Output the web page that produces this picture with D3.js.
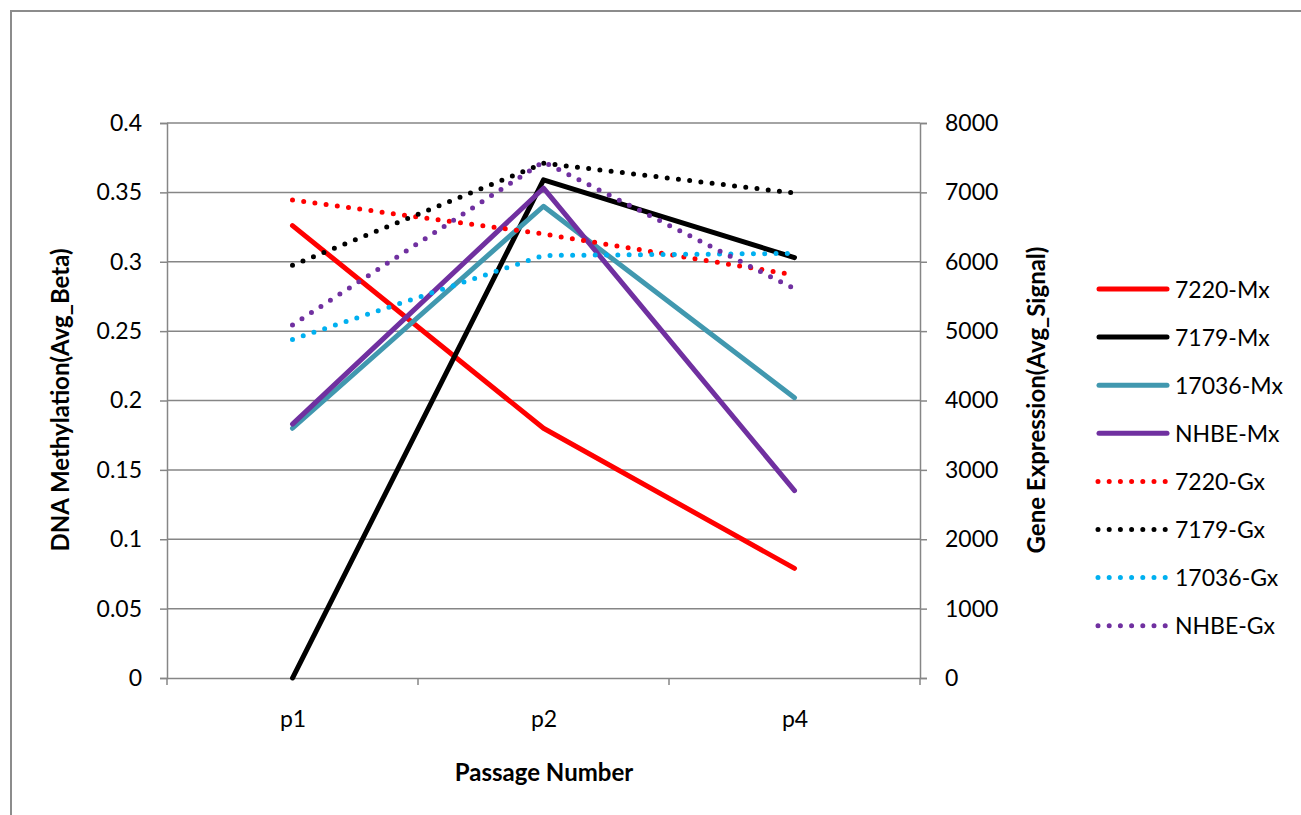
<!DOCTYPE html>
<html><head><meta charset="utf-8">
<script src="https://cdn.jsdelivr.net/npm/d3@7"></script>
<style>body{margin:0;background:#fff}svg{display:block}text{font-family:Lato,"Open Sans",sans-serif}</style>
</head><body><svg id="c" width="1301" height="815"></svg>
<script>
const categories = ["p1","p2","p4"];
const leftTicks = [0,0.05,0.1,0.15,0.2,0.25,0.3,0.35,0.4];
const rightTicks = [0,1000,2000,3000,4000,5000,6000,7000,8000];
const mx7220 = [0.326,0.180,0.079];
const mx7179 = [0.0,0.359,0.303];
const mx17036 = [0.180,0.340,0.202];
const mxNHBE = [0.183,0.353,0.135];
const gx7220 = [6890,6400,5810];
const gx7179 = [5950,7420,6990];
const gx17036 = [4880,6090,6120];
const gxNHBE = [5090,7440,5610];
const seriesNames = ["7220-Mx","7179-Mx","17036-Mx","NHBE-Mx","7220-Gx","7179-Gx","17036-Gx","NHBE-Gx"];

const series = [
 {name:seriesNames[0],vals:mx7220,axis:"L",color:"#ff0000",dot:false},
 {name:seriesNames[1],vals:mx7179,axis:"L",color:"#000000",dot:false},
 {name:seriesNames[2],vals:mx17036,axis:"L",color:"#4198af",dot:false},
 {name:seriesNames[3],vals:mxNHBE,axis:"L",color:"#7030a0",dot:false},
 {name:seriesNames[4],vals:gx7220,axis:"R",color:"#ff0000",dot:true},
 {name:seriesNames[5],vals:gx7179,axis:"R",color:"#000000",dot:true},
 {name:seriesNames[6],vals:gx17036,axis:"R",color:"#00b0f0",dot:true},
 {name:seriesNames[7],vals:gxNHBE,axis:"R",color:"#7030a0",dot:true}
];

const svg = d3.select("#c");
const L=167,R=920,T=123,B=678;
const grey="#868686";
const FS=23;
// outer frame
svg.append("rect").attr("x",11).attr("y",11).attr("width",1400).attr("height",1000)
  .attr("fill","none").attr("stroke","#8c8c8c").attr("stroke-width",2);

const x = d3.scalePoint().domain(categories).range([L,R]).padding(0.5);
const yL = d3.scaleLinear().domain([0,0.4]).range([B,T]);
const yR = d3.scaleLinear().domain([0,8000]).range([B,T]);

// gridlines
svg.append("g").selectAll("line").data(leftTicks.filter(d=>d>0)).join("line")
  .attr("x1",L).attr("x2",R).attr("y1",d=>yL(d)).attr("y2",d=>yL(d))
  .attr("stroke",grey).attr("stroke-width",1.5);

// left axis
const gl = svg.append("g").attr("transform",`translate(${L},0)`)
  .call(d3.axisLeft(yL).tickValues(leftTicks).tickFormat(d=>String(+d.toFixed(2))).tickSize(7).tickPadding(18));
// right axis
const gr = svg.append("g").attr("transform",`translate(${R},0)`)
  .call(d3.axisRight(yR).tickValues(rightTicks).tickFormat(d=>String(d)).tickSize(7).tickPadding(18));
// bottom axis
const step = x.step();
const gb = svg.append("g").attr("transform",`translate(0,${B})`)
  .call(d3.axisBottom(x).tickSize(0).tickPadding(33));
gb.append("g").selectAll("line").data([0,1,2,3]).join("line")
  .attr("x1",i=>L+i*step).attr("x2",i=>L+i*step).attr("y1",0).attr("y2",7)
  .attr("stroke",grey).attr("stroke-width",1.5);
[gl,gr,gb].forEach(g=>{
  g.select(".domain").attr("stroke",grey).attr("stroke-width",1.5);
  g.selectAll(".tick line").attr("stroke",grey).attr("stroke-width",1.5);
  g.selectAll(".tick text").attr("font-size",FS).attr("fill","#000").attr("font-family","Lato,'Open Sans',sans-serif");
});

// lines
const clip = svg.append("g");
series.forEach(s=>{
  const y = s.axis==="L"?yL:yR;
  const line = d3.line().x((d,i)=>x(categories[i])).y(d=>y(d));
  const p = clip.append("path").datum(s.vals).attr("d",line).attr("fill","none")
    .attr("stroke",s.color).attr("stroke-linecap","round").attr("stroke-linejoin","round");
  if(s.dot){ p.attr("stroke-width",5).attr("stroke-dasharray","0 11.3"); }
  else { p.attr("stroke-width",5); }
});

// axis titles
svg.append("text").attr("transform","translate(69,400) rotate(-90)").attr("text-anchor","middle")
  .attr("font-size",24).attr("font-weight","bold").text("DNA Methylation(Avg_Beta)");
svg.append("text").attr("transform","translate(1045,400) rotate(-90)").attr("text-anchor","middle")
  .attr("font-size",24).attr("font-weight","bold").text("Gene Expression(Avg_Signal)");
svg.append("text").attr("x",544).attr("y",781).attr("text-anchor","middle")
  .attr("font-size",24).attr("font-weight","bold").text("Passage Number");

// legend
const lg = svg.append("g");
series.forEach((s,i)=>{
  const yy = 289 + i*48.1;
  const ln = lg.append("line").attr("x1",s.dot?1098:1099).attr("x2",s.dot?1166:1167).attr("y1",yy).attr("y2",yy)
    .attr("stroke",s.color).attr("stroke-width",5).attr("stroke-linecap","round");
  if(s.dot) ln.attr("stroke-dasharray","0 11.2");
  lg.append("text").attr("x",1175).attr("y",yy+8.5).attr("font-size",FS).text(s.name);
});
</script></body></html>
